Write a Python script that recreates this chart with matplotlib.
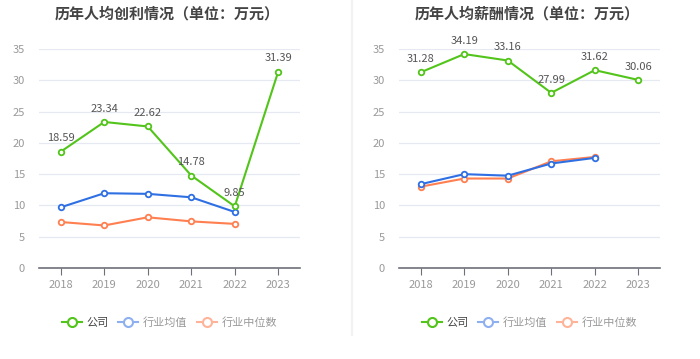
import matplotlib
matplotlib.use("Agg")
import matplotlib.pyplot as plt
from matplotlib.lines import Line2D

plt.rcParams["font.family"] = ["Noto Sans CJK SC", "DejaVu Sans"]

# datos
years = ["2018", "2019", "2020", "2021", "2022", "2023"]

profit_company = [18.59, 23.34, 22.62, 14.78, 9.85, 31.39]
profit_avg = [9.7, 11.95, 11.85, 11.3, 8.95]
profit_median = [7.35, 6.8, 8.1, 7.45, 7.05]

salary_company = [31.28, 34.19, 33.16, 27.99, 31.62, 30.06]
salary_avg = [13.4, 15.0, 14.75, 16.7, 17.6]
salary_median = [13.0, 14.3, 14.3, 17.05, 17.75]

titles = ["历年人均创利情况（单位：万元）", "历年人均薪酬情况（单位：万元）"]
legend_names = ["公司", "行业均值", "行业中位数"]

green = "#52c41a"
blue = "#2f6fe4"
orange = "#ff7f50"

fig = plt.figure(figsize=(7.0, 3.59), dpi=100)

# linea divisoria
fig.add_artist(Line2D([351.5 / 700, 351.5 / 700], [1.0, 24 / 359], color="#f2f2f2", lw=1.5))


def panel(left, company, avg, median, title):
    ax = fig.add_axes([left / 700, 91 / 359, 261 / 700, 219 / 359])
    x = list(range(len(years)))
    mk = dict(marker="o", markersize=4, markerfacecolor="white", markeredgewidth=1.3)
    ax.plot(x[:len(median)], median, color=orange, lw=1.5, zorder=3, **mk)
    ax.plot(x[:len(avg)], avg, color=blue, lw=1.5, zorder=4, **mk)
    ax.plot(x, company, color=green, lw=1.5, zorder=5, **mk)
    for xi, v in zip(x, company):
        ax.annotate(f"{v:.2f}", (xi, v), xytext=(0, 6), textcoords="offset points",
                    ha="center", va="bottom", fontsize=8, color="#555555", zorder=6)
    ax.set_xlim(-0.5, len(years) - 0.5)
    ax.set_ylim(0, 35)
    ax.set_yticks(range(0, 36, 5))
    ax.set_xticks(x)
    ax.set_xticklabels(years)
    ax.grid(axis="y", color="#e6e9f2", lw=0.9)
    ax.set_axisbelow(True)
    for s in ["top", "right", "left"]:
        ax.spines[s].set_visible(False)
    ax.spines["bottom"].set_color("#6e7079")
    ax.spines["bottom"].set_linewidth(1.2)
    ax.tick_params(axis="y", length=0, labelsize=8, labelcolor="#999999", pad=10)
    ax.tick_params(axis="x", length=5, color="#6e7079", labelsize=8, labelcolor="#999999", pad=4)
    fig.text((left + 128) / 700, 1 - 13 / 359, title, ha="center", va="center",
             fontsize=10.8, fontweight="bold", color="#444444")
    handles = [
        Line2D([], [], color=green, lw=1.5, marker="o", markersize=6.5, markerfacecolor="white", markeredgewidth=1.5),
        Line2D([], [], color="#8fb0f0", lw=1.5, marker="o", markersize=6.5, markerfacecolor="white", markeredgewidth=1.5),
        Line2D([], [], color="#ffb49a", lw=1.5, marker="o", markersize=6.5, markerfacecolor="white", markeredgewidth=1.5),
    ]
    leg = ax.legend(handles, legend_names, loc="center", bbox_to_anchor=(0.5, -0.25),
                    ncol=3, frameon=False, fontsize=8, handlelength=1.8, handletextpad=0.4,
                    columnspacing=0.9)
    for t, c in zip(leg.get_texts(), ["#444444", "#999999", "#999999"]):
        t.set_color(c)
    return ax


panel(39, profit_company, profit_avg, profit_median, titles[0])
panel(399, salary_company, salary_avg, salary_median, titles[1])

plt.savefig("out.png", dpi=100)
